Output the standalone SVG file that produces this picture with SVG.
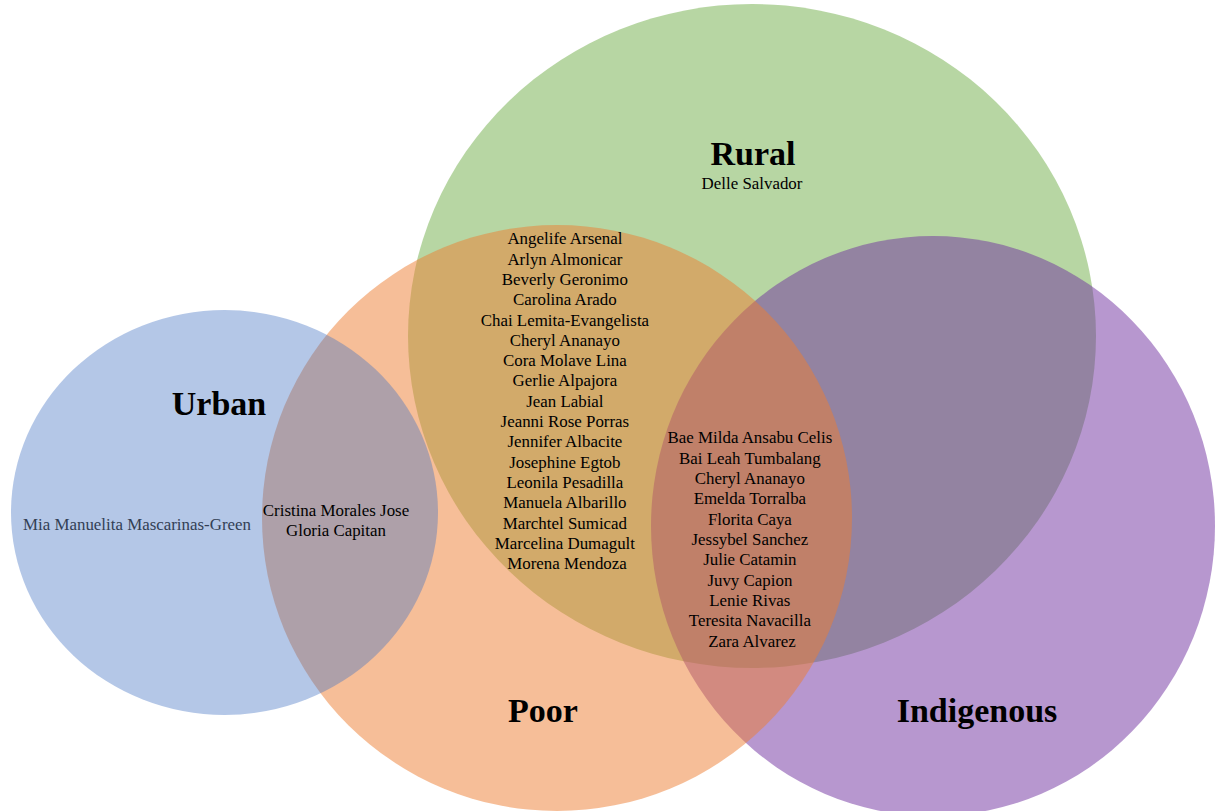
<svg xmlns="http://www.w3.org/2000/svg" width="1215" height="811" viewBox="0 0 1215 811">
<style>
.set{fill-opacity:0.5;stroke:none}
.title{font-family:"Liberation Serif","Times New Roman",serif;font-weight:bold;font-size:34px;fill:#000;text-anchor:middle}
.name{font-family:"Liberation Serif","Times New Roman",serif;font-size:16.9px;fill:#000;text-anchor:middle}
</style>
<rect width="1215" height="811" fill="#fff"/>
<g id="rural"><ellipse class="set" cx="752" cy="336" rx="344" ry="332" fill="#70AD47"/></g>
<g id="indigenous"><ellipse class="set" cx="933" cy="526" rx="282" ry="290" fill="#7030A0"/></g>
<g id="poor"><ellipse class="set" cx="557" cy="518" rx="295" ry="293" fill="#ED7D31"/></g>
<g id="urban"><ellipse class="set" cx="224.5" cy="512.5" rx="213.5" ry="202.5" fill="#4472C4" style="fill-opacity:0.4"/></g>
<g id="connectors"></g>
<g id="labels">
<text class="title" x="219" y="415">Urban</text>
<text class="title" x="753" y="165">Rural</text>
<text class="title" x="543" y="722">Poor</text>
<text class="title" x="977" y="722">Indigenous</text>
<text class="name" x="752" y="189">Delle Salvador</text>
<text class="name" x="137" y="530" style="fill:#333F55">Mia Manuelita Mascarinas-Green</text>
<text class="name" x="336" y="516">Cristina Morales Jose</text>
<text class="name" x="336" y="536">Gloria Capitan</text>
<text class="name" x="567" y="244.3">
<tspan x="567">Angelife Arsenal</tspan>
<tspan x="567" dy="20.3">Arlyn Almonicar</tspan>
<tspan x="567" dy="20.3">Beverly Geronimo</tspan>
<tspan x="567" dy="20.3">Carolina Arado</tspan>
<tspan x="567" dy="20.3">Chai Lemita-Evangelista</tspan>
<tspan x="567" dy="20.3">Cheryl Ananayo</tspan>
<tspan x="567" dy="20.3">Cora Molave Lina</tspan>
<tspan x="567" dy="20.3">Gerlie Alpajora</tspan>
<tspan x="567" dy="20.3">Jean Labial</tspan>
<tspan x="567" dy="20.3">Jeanni Rose Porras</tspan>
<tspan x="567" dy="20.3">Jennifer Albacite</tspan>
<tspan x="567" dy="20.3">Josephine Egtob</tspan>
<tspan x="567" dy="20.3">Leonila Pesadilla</tspan>
<tspan x="567" dy="20.3">Manuela Albarillo</tspan>
<tspan x="567" dy="20.3">Marchtel Sumicad</tspan>
<tspan x="567" dy="20.3">Marcelina Dumagult</tspan>
<tspan x="567" dy="20.3">Morena Mendoza</tspan>
</text>
<text class="name" x="752" y="443.3">
<tspan x="752">Bae Milda Ansabu Celis</tspan>
<tspan x="752" dy="20.34">Bai Leah Tumbalang</tspan>
<tspan x="752" dy="20.34">Cheryl Ananayo</tspan>
<tspan x="752" dy="20.34">Emelda Torralba</tspan>
<tspan x="752" dy="20.34">Florita Caya</tspan>
<tspan x="752" dy="20.34">Jessybel Sanchez</tspan>
<tspan x="752" dy="20.34">Julie Catamin</tspan>
<tspan x="752" dy="20.34">Juvy Capion</tspan>
<tspan x="752" dy="20.34">Lenie Rivas</tspan>
<tspan x="752" dy="20.34">Teresita Navacilla</tspan>
<tspan x="752" dy="20.34">Zara Alvarez</tspan>
</text>
</g>
</svg>
